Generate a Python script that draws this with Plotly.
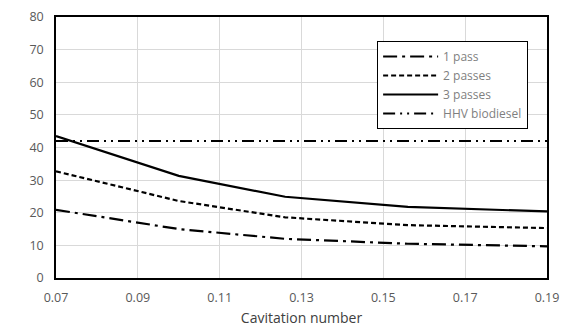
import plotly.graph_objects as go

cav = [0.07, 0.10, 0.126, 0.156, 0.19]
pass1 = [20.9, 15.0, 12.0, 10.5, 9.7]
pass2 = [32.7, 23.6, 18.6, 16.2, 15.3]
pass3 = [43.5, 31.3, 24.9, 21.8, 20.4]
hhv_x = [0.07, 0.19]
hhv = [42.0, 42.0]

names = ["1 pass", "2 passes", "3 passes", "HHV biodiesel"]
x_ticks = [0.07, 0.09, 0.11, 0.13, 0.15, 0.17, 0.19]
y_ticks = [0, 10, 20, 30, 40, 50, 60, 70, 80]

fig = go.Figure()
fig.add_trace(go.Scatter(x=cav, y=pass1, mode="lines", name=names[0],
                         line=dict(color="black", width=2.2, dash="14px,5px,3px,5px")))
fig.add_trace(go.Scatter(x=cav, y=pass2, mode="lines", name=names[1],
                         line=dict(color="black", width=2.2, dash="5px,3px")))
fig.add_trace(go.Scatter(x=cav, y=pass3, mode="lines", name=names[2],
                         line=dict(color="black", width=2.2)))
fig.add_trace(go.Scatter(x=hhv_x, y=hhv, mode="lines", name=names[3],
                         line=dict(color="black", width=2.2, dash="12px,5px,2px,5px,2px,5px")))

fig.update_layout(
    width=568, height=330,
    margin=dict(l=56, r=21, t=17, b=52),
    paper_bgcolor="white", plot_bgcolor="white",
    font=dict(family="Open Sans, Liberation Sans, sans-serif", color="#595959", size=12),
    showlegend=True,
    legend=dict(x=0.654, y=0.908, xanchor="left", yanchor="top",
                bordercolor="black", borderwidth=1, bgcolor="white",
                font=dict(size=12, color="#7f7f7f"), tracegroupgap=0,
                itemwidth=55, entrywidth=150),
    xaxis=dict(range=[0.07, 0.19], tickvals=x_ticks, ticktext=[f"{v:.2f}" for v in x_ticks],
               showgrid=True, gridcolor="#d9d9d9", gridwidth=1,
               showline=True, linecolor="black", linewidth=1.5, mirror=True,
               ticks="outside", ticklen=7, tickcolor="rgba(0,0,0,0)", zeroline=False,
               automargin=False,
               title=dict(text="Cavitation number", font=dict(size=14, color="#404040"), standoff=8),
               tickfont=dict(size=12.5)),
    yaxis=dict(range=[0, 80], tickvals=y_ticks,
               showgrid=True, gridcolor="#d9d9d9", gridwidth=1,
               showline=True, linecolor="black", linewidth=1.5, mirror=True,
               ticks="outside", ticklen=8, tickcolor="rgba(0,0,0,0)", zeroline=False,
               automargin=False,
               tickfont=dict(size=12.5)),
)

fig.write_html("out.html")
